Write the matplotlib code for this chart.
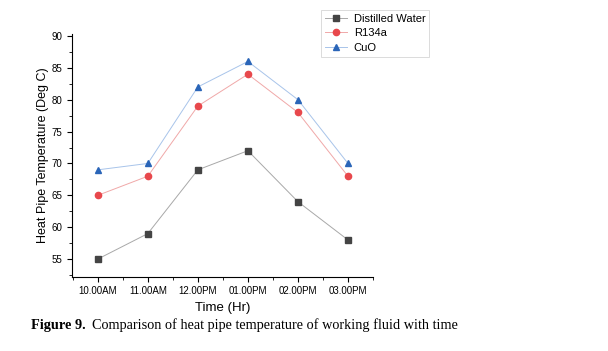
import matplotlib
matplotlib.use('Agg')
import matplotlib.pyplot as plt
from matplotlib.ticker import MultipleLocator, FixedLocator

times = ['10.00AM', '11.00AM', '12.00PM', '01.00PM', '02.00PM', '03.00PM']
water = [55, 59, 69, 72, 64, 58]
r134a = [65, 68, 79, 84, 78, 68]
cuo = [69, 70, 82, 86, 80, 70]

plt.rcParams['font.family'] = ['Liberation Sans', 'DejaVu Sans']

fig = plt.figure(figsize=(6.08, 3.51), dpi=100)
ax = fig.add_axes([0.118, 0.211, 0.4955, 0.692])

x = list(range(len(times)))
ax.plot(x, water, color='#a8a8a8', lw=0.7, marker='s', ms=4,
        mfc='#444444', mec='#444444', label='Distilled Water')
ax.plot(x, r134a, color='#f0a8a8', lw=0.7, marker='o', ms=4.5,
        mfc='#e8484c', mec='#e8484c', label='R134a')
ax.plot(x, cuo, color='#a8c4ea', lw=0.7, marker='^', ms=4.5,
        mfc='#2a65b8', mec='#2a65b8', label='CuO')

ax.set_xlim(-0.52, 5.5)
ax.set_ylim(52.2, 90.3)
ax.set_xticks(x)
ax.set_xticklabels(times)
ax.xaxis.set_minor_locator(FixedLocator([i + 0.5 for i in range(-1, 6)]))
ax.yaxis.set_major_locator(MultipleLocator(5))
ax.yaxis.set_minor_locator(MultipleLocator(2.5))
ax.tick_params(which='major', direction='out', length=3.5, width=0.8, labelsize=7, pad=3)
ax.tick_params(which='minor', direction='out', length=2, width=0.6)
for s in ['top', 'right']:
    ax.spines[s].set_visible(False)

ax.set_xlabel('Time (Hr)', fontsize=9.5, labelpad=4)
ax.set_ylabel('Heat Pipe Temperature (Deg C)', fontsize=9)
ax.yaxis.set_label_coords(-0.075, 0.5)

leg = ax.legend(loc='upper left', fontsize=8, frameon=True, fancybox=False, borderpad=0.35,
                handlelength=2.0, labelspacing=0.4, handletextpad=0.6, borderaxespad=0)
leg.set_bbox_to_anchor((321 / 608, 1 - 10 / 351), transform=fig.transFigure)
leg.get_frame().set_edgecolor('#cccccc')
leg.get_frame().set_linewidth(0.6)

fig.text(31 / 608, 1 - 325 / 351, 'Figure 9.', fontsize=10.3, va='center',
         family='Liberation Serif', weight='bold')
fig.text(92 / 608, 1 - 325 / 351, 'Comparison of heat pipe temperature of working fluid with time',
         fontsize=10.3, va='center', family='Liberation Serif')

fig.savefig('out.png', dpi=100)
